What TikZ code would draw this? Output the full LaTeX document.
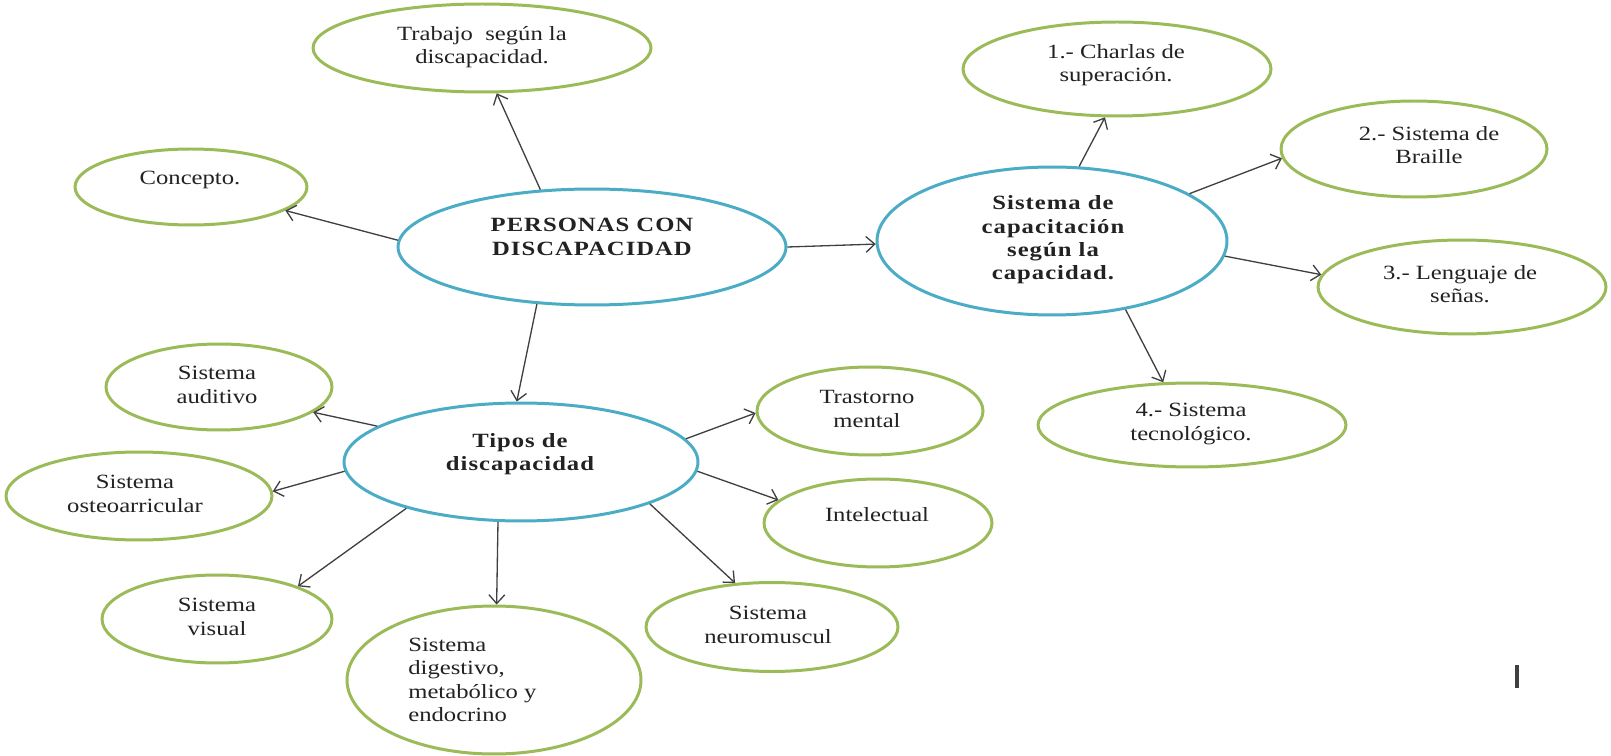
\documentclass[tikz,border=0pt]{standalone}
\usepackage{fontspec}
\setmainfont{Liberation Serif}[FakeStretch=1.22]
\newfontfamily\bfam{Liberation Serif}[FakeStretch=1.22, LetterSpace=5]
\usetikzlibrary{shapes.geometric,arrows.meta}
\definecolor{ogreen}{HTML}{9BBB59}
\definecolor{oblue}{HTML}{4BACC6}
\definecolor{txt}{HTML}{222222}
\definecolor{arrc}{HTML}{404040}
\tikzset{
  ebase/.style={ellipse, draw, line width=1.7pt, inner sep=0pt, fill=white},
  gell/.style={ebase, draw=ogreen},
  bell/.style={ebase, draw=oblue},
  lbl/.style={text=txt, align=center, inner sep=0pt, font=\fontsize{11.5}{13.3}\selectfont},
  blbl/.style={lbl, font=\bfam\fontsize{11.5}{13.3}\selectfont\bfseries},
  arr/.style={draw=arrc, line width=0.75pt, -{Straight Barb[length=5pt,width=9pt]}}
}
\begin{document}
\begin{tikzpicture}[x=0.02cm,y=-0.02cm]
\fill[white] (0,0) rectangle (1611,756);
\useasboundingbox (0,0) rectangle (1611,756);

% ellipses
\node[bell, minimum width=7.76cm, minimum height=2.32cm] (P) at (592,247) {};
\node[gell, minimum width=6.76cm, minimum height=1.76cm] (T) at (482,48) {};
\node[gell, minimum width=4.64cm, minimum height=1.52cm] (C) at (191,187) {};
\node[bell, minimum width=7.00cm, minimum height=2.96cm] (S) at (1052,241) {};
\node[gell, minimum width=6.16cm, minimum height=1.88cm] (C1) at (1117,69) {};
\node[gell, minimum width=5.32cm, minimum height=1.92cm] (C2) at (1414,149) {};
\node[gell, minimum width=5.76cm, minimum height=1.88cm] (C3) at (1462,287) {};
\node[gell, minimum width=6.16cm, minimum height=1.68cm] (C4) at (1192,425) {};
\node[bell, minimum width=7.08cm, minimum height=2.36cm] (D) at (521,462) {};
\node[gell, minimum width=4.52cm, minimum height=1.72cm] (A) at (219,387) {};
\node[gell, minimum width=5.32cm, minimum height=1.76cm] (O) at (139,496) {};
\node[gell, minimum width=4.60cm, minimum height=1.76cm] (V) at (217,619) {};
\node[gell, minimum width=5.88cm, minimum height=2.96cm] (G) at (494,680) {};
\node[gell, minimum width=5.04cm, minimum height=1.78cm] (N) at (772,627) {};
\node[gell, minimum width=4.52cm, minimum height=1.76cm] (M) at (870,411) {};
\node[gell, minimum width=4.56cm, minimum height=1.76cm] (I) at (878,523) {};

% texts
\node[lbl] (Tt) at (482,47) {Trabajo\ \ según la\\discapacidad.};
\node[lbl] (Ct) at (190,180) {Concepto.};
\node[blbl] (Pt) at (592,237) {PERSONAS CON\\DISCAPACIDAD};
\node[blbl] (St) at (1053,240) {Sistema de\\capacitación\\según la\\capacidad.};
\node[lbl] (C1t) at (1116,65) {1.- Charlas de\\superación.};
\node[lbl] (C2t) at (1429,145) {2.- Sistema de\\Braille};
\node[lbl] (C3t) at (1460,284) {3.- Lenguaje de\\señas.};
\node[lbl] (C4t) at (1191,424) {4.- Sistema\\tecnológico.};
\node[blbl] (Dt) at (520,454) {Tipos de\\discapacidad};
\node[lbl] (At) at (217,385) {Sistema\\auditivo};
\node[lbl] (Ot) at (135,494) {Sistema\\osteoarricular};
\node[lbl] (Vt) at (217,617) {Sistema\\visual};
\node[lbl, align=left, anchor=west] (Gt) at (408,680) {Sistema\\digestivo,\\metabólico y\\endocrino};
\node[lbl] (Nt) at (768,625) {Sistema\\neuromuscul};
\node[lbl] (Mt) at (867,409) {Trastorno\\mental};
\node[lbl] (It) at (877,515) {Intelectual};

% connectors
\draw[arr] (P.132.8) -- (T.-72.3);
\draw[arr] (P.178) -- (C.-14.2);
\draw[arr] (P.0) -- (S.181);
\draw[arr] (P.-134) -- (D.94);
\draw[arr] (S.70.4) -- (C1.-104);
\draw[arr] (S.19.4) -- (C2.184.9);
\draw[arr] (S.-5.6) -- (C3.175.3);
\draw[arr] (S.-43.4) -- (C4.124.9);
\draw[arr] (D.166.8) -- (A.-15);
\draw[arr] (D.183.6) -- (O.2.6);
\draw[arr] (D.202) -- (V.22);
\draw[arr] (D.-111.8) -- (G.88);
\draw[arr] (D.-18.8) -- (N.130.9);
\draw[arr] (D.8.6) -- (M.181.5);
\draw[arr] (D.-3.6) -- (I.167.8);

% stray mark
\fill[black!75] (1515,665) rectangle (1519,688);
\end{tikzpicture}
\end{document}
